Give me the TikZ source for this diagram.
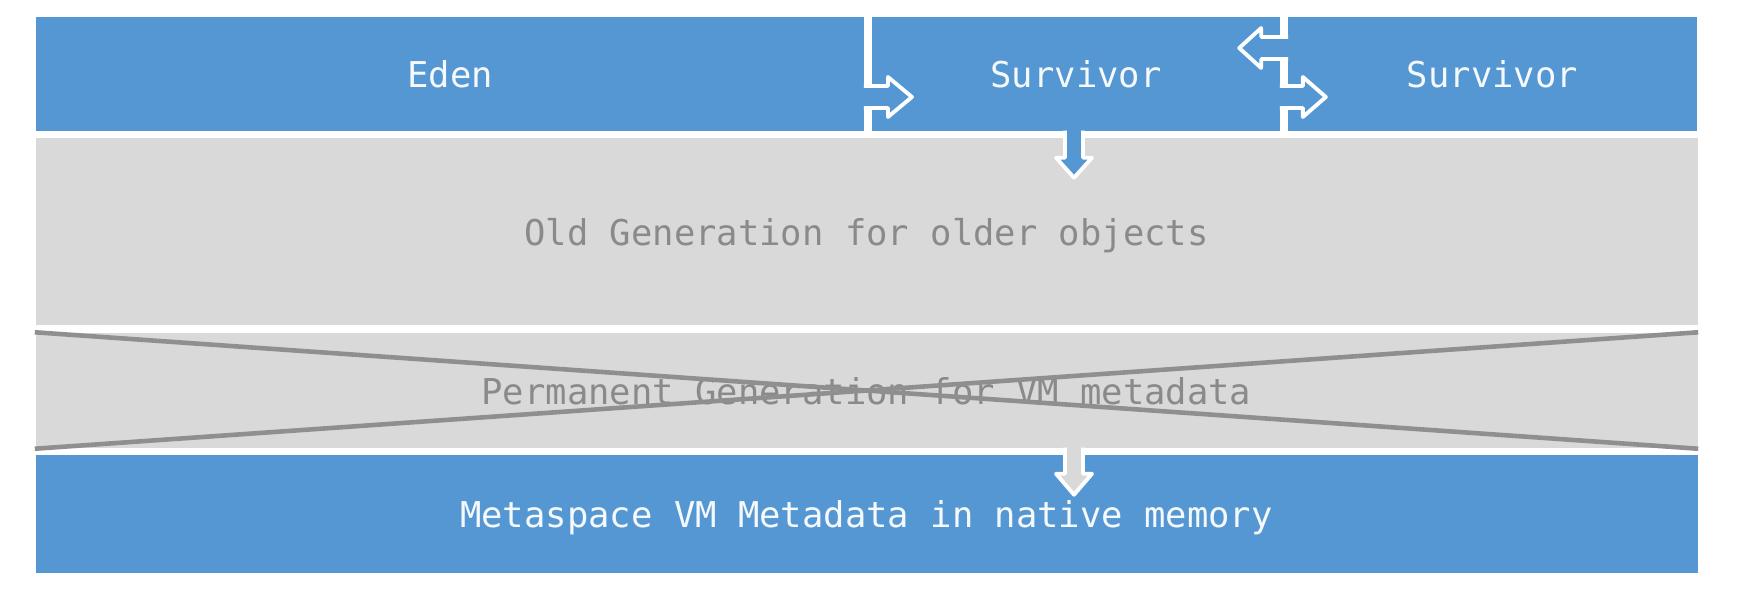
\documentclass[tikz,border=0pt]{standalone}
\usepackage{fontspec}
\setmonofont{DejaVu Sans Mono}
\usepackage{xcolor}
\usetikzlibrary{calc}

\definecolor{heapblue}{HTML}{5597D3}
\definecolor{heapgrey}{HTML}{D9D9D9}
\definecolor{greytext}{HTML}{8A8A8A}
\definecolor{xgrey}{HTML}{8F8F8F}

\begin{document}
\begin{tikzpicture}[
  x=0.01cm, y=-0.01cm,
  font=\ttfamily\fontsize{10.1pt}{12pt}\selectfont,
  blueband/.style={
    fill=heapblue,
    text=white!94!heapblue,
    inner sep=0pt,
    text depth=0pt
  },
  greyband/.style={
    fill=heapgrey,
    text=greytext,
    inner sep=0pt,
    text depth=0pt
  },
  blockarrow/.style={draw=white, line width=1.1pt, line join=round},
  crossout/.style={draw=xgrey, line width=1.3pt}
]
\useasboundingbox (0,0) rectangle (1746,600);

% ================= young generation =================
\node[blueband, minimum width=8.28cm, minimum height=1.14cm] (eden)
  at (450,74) {Eden};
\node[blueband, minimum width=4.08cm, minimum height=1.14cm] (surv_from)
  at (1076,74) {Survivor};
\node[blueband, minimum width=4.09cm, minimum height=1.14cm] (surv_to)
  at (1492.5,74) {Survivor};

% ================= old / perm / metaspace =================
\node[greyband, minimum width=16.61cm, minimum height=1.87cm] (old_gen)
  at (866.5,231.5) {Old Generation for older objects};
\node[greyband, minimum width=16.61cm, minimum height=1.15cm] (perm_gen)
  at (866.5,390.5) {Permanent Generation for VM metadata};
\node[blueband, minimum width=16.61cm, minimum height=1.18cm] (metaspace)
  at (866.5,514) {Metaspace VM Metadata in native memory};

% perm gen is crossed out
\draw[crossout] (perm_gen.north west) -- (perm_gen.south east);
\draw[crossout] (perm_gen.south west) -- (perm_gen.north east);

% ================= block arrows =================
\path[blockarrow, fill=heapblue]
  ($(eden.east)+(-1,12)$) -- ++(24,0) -- ++(0,-9) -- ++(24,20)
  -- ++(-24,20) -- ++(0,-9) -- ++(-24,0);

\path[blockarrow, fill=heapblue]
  ($(surv_from.east)+(-1,12)$) -- ++(23,0) -- ++(0,-9) -- ++(23,20)
  -- ++(-23,20) -- ++(0,-9) -- ++(-23,0);

\path[blockarrow, fill=heapblue]
  ($(surv_to.west)+(1,-37)$) -- ++(-27,0) -- ++(0,-9) -- ++(-22,20)
  -- ++(22,20) -- ++(0,-9) -- ++(27,0);

\path[blockarrow, fill=heapblue]
  ($(surv_from.south)+(-11,-1)$) -- ++(0,27) -- ++(-9,0) -- ++(18,20)
  -- ++(18,-20) -- ++(-9,0) -- ++(0,-27);

\path[blockarrow, fill=heapgrey]
  ($(perm_gen.south -| surv_from.south)+(-11,-1)$) -- ++(0,26) -- ++(-9,0)
  -- ++(18,21) -- ++(18,-21) -- ++(-9,0) -- ++(0,-26);

\end{tikzpicture}
\end{document}
